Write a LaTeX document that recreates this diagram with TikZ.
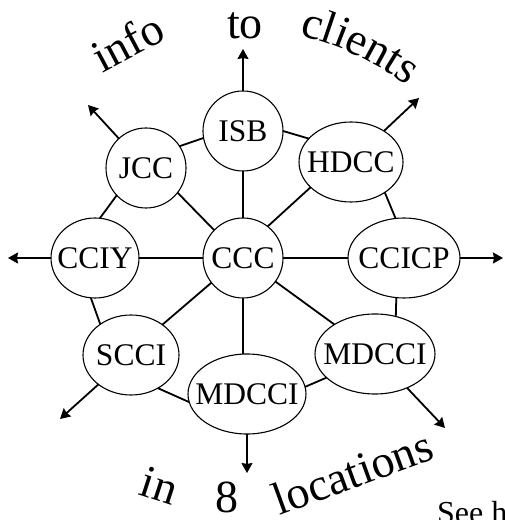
\documentclass[tikz,border=0pt]{standalone}
\usepackage{fontspec}
\setmainfont{Liberation Serif}
\usetikzlibrary{shapes.geometric,arrows.meta,decorations.text}

% zero-width label box, so the ellipse size comes from the minimum sizes only
\newcommand\ctrtext[1]{\makebox[0pt]{#1}}

\begin{document}
\begin{tikzpicture}[x=1pt,y=1pt,
  org/.style={ellipse, draw, line width=1.1pt, inner sep=0pt, outer sep=0pt,
    minimum height=80pt, font=\fontsize{31.5}{31.5}\selectfont},
  tie/.style={line width=1.8pt},
  outflow/.style={line width=1.8pt, -{Stealth[length=10pt,width=11pt,inset=1pt]}},
  word/.style={font=\fontsize{46}{46}\selectfont, inner sep=0pt, anchor=base}]

\useasboundingbox (0,0) rectangle (504,520);
\clip (0,0) rectangle (504,520);

% centres
\node[org, minimum width=80pt]  (ISB)   at (243,389) {\ctrtext{ISB}};
\node[org, minimum width=80pt]  (JCC)   at (146,352) {\ctrtext{JCC}};
\node[org, minimum width=104pt] (HDCC)  at (351,358) {\ctrtext{HDCC}};
\node[org, minimum width=88pt]  (CCIY)  at (95,262)  {\ctrtext{CCIY}};
\node[org, minimum width=80pt]  (CCC)   at (243,262) {\ctrtext{CCC}};
\node[org, minimum width=112pt] (CCICP) at (404,262) {\ctrtext{CCICP}};
\node[org, minimum width=96pt]  (SCCI)  at (131,165) {\ctrtext{SCCI}};
\node[org, minimum width=120pt] (MDr)   at (375,166) {\ctrtext{MDCCI}};
\node[org, minimum width=118pt] (MDb)   at (247,126) {\ctrtext{MDCCI}};

% links between centres
\draw[tie] (JCC.33)   -- (ISB.190);
\draw[tie] (ISB.0)    -- (HDCC.151);
\draw[tie] (ISB)      -- (CCC);
\draw[tie] (JCC.223)  -- (CCIY.83);
\draw[tie] (JCC.-38)  -- (CCC.136);
\draw[tie] (HDCC.212) -- (CCC.52);
\draw[tie] (HDCC.-42) -- (CCICP.102);
\draw[tie] (CCIY)     -- (CCC);
\draw[tie] (CCC)      -- (CCICP);
\draw[tie] (CCIY.264) -- (SCCI.135);
\draw[tie] (CCC.218)  -- (SCCI.44);
\draw[tie] (CCC.south) -- (CCC.south |- MDb.north);
\draw[tie] (CCC.-36)  -- (MDr.144);
\draw[tie] (CCICP.259) -- (MDr.61);
\draw[tie] (SCCI.-51) -- (MDb.188);
\draw[tie] (MDb.7)    -- (MDr.206);

% outgoing information
\coordinate (tISB)   at (243,471);
\coordinate (tJCC)   at (88,415);
\coordinate (tHDCC)  at (419,422);
\coordinate (tCCIY)  at (8,262);
\coordinate (tCCICP) at (503,262);
\coordinate (tSCCI)  at (60,101);
\coordinate (tMDr)   at (445,92);
\coordinate (tMDb)   at (247,47);
\draw[outflow] (ISB)   -- (tISB);
\draw[outflow] (JCC)   -- (tJCC);
\draw[outflow] (HDCC)  -- (tHDCC);
\draw[outflow] (CCIY)  -- (tCCIY);
\draw[outflow] (CCICP) -- (tCCICP);
\draw[outflow] (SCCI)  -- (tSCCI);
\draw[outflow] (MDr)   -- (tMDr);
\draw[outflow] (MDb)   -- (tMDb);

% words around the ring
\node[word, rotate=28] (wInfo) at (135,464) {info};
\node[word] (wTo) at (245,481) {to};
\path[decorate, decoration={text along path,
    text={|\fontsize{46}{46}\selectfont|clients}, text align=center}]
  (229,193) ++(85:300) arc[start angle=85, end angle=45, radius=300];
\node[word, rotate=-18] (wIn) at (155,20) {in};
\node[word] (wEight) at (227,7) {8};
\node[word, rotate=20] (wLoc) at (358,33) {locations};
\node[font=\fontsize{32}{32}\selectfont, inner sep=0pt, anchor=base west] (wSee) at (437,-4) {See h};
\end{tikzpicture}
\end{document}
